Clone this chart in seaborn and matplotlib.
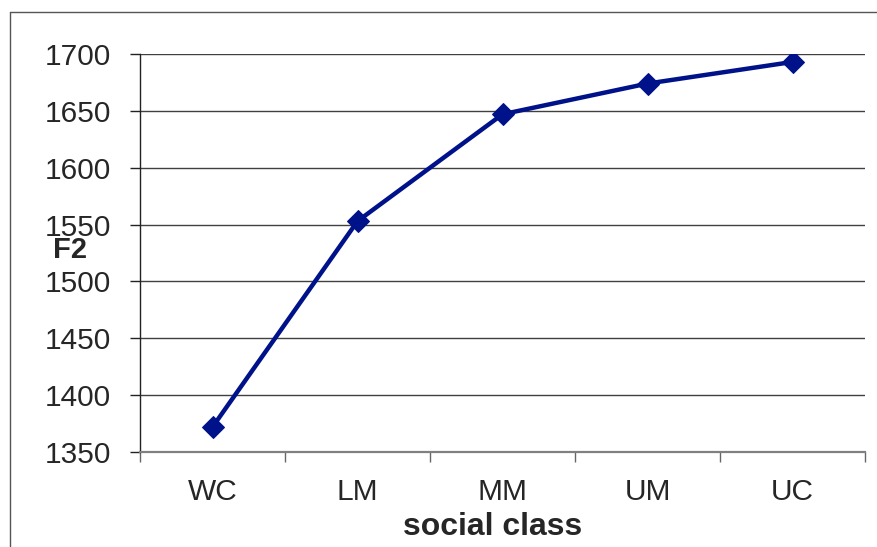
import numpy as np
import pandas as pd
import matplotlib
matplotlib.use('Agg')
import matplotlib.pyplot as plt
import seaborn as sns
from matplotlib.lines import Line2D
from matplotlib.ticker import FixedLocator

# 데이터
social_class = ['WC', 'LM', 'MM', 'UM', 'UC']
f2_values = [1372, 1553, 1647, 1674, 1693]
y_ticks = [1350, 1400, 1450, 1500, 1550, 1600, 1650, 1700]

sns.set_style('white')
plt.rcParams['font.family'] = ['Liberation Sans', 'DejaVu Sans']

df = pd.DataFrame({'social class': social_class, 'F2': f2_values})

fig = plt.figure(figsize=(8.78, 5.47), dpi=100)
ax = fig.add_axes([0.1595, 0.1737, 0.8257, 0.7276])

# 바깥 차트 테두리 (왼쪽, 위쪽만 보임)
bx = 10.5 / 878
by = (547 - 12) / 547
fig.lines.append(Line2D([bx, bx], [0, by], transform=fig.transFigure,
                        color='#555555', linewidth=1.0))
fig.lines.append(Line2D([bx, 1.0], [by, by], transform=fig.transFigure,
                        color='#555555', linewidth=1.0))

sns.lineplot(data=df, x='social class', y='F2', sort=False, ax=ax,
             color='#00128A', linewidth=3.2, marker='D', markersize=11,
             markeredgecolor='#00128A', zorder=5)

ax.set_xlim(-0.5, 4.5)
ax.set_ylim(1350, 1700)
ax.set_yticks(y_ticks)
ax.set_yticklabels([str(v) for v in y_ticks], fontsize=21.5)
ax.set_xticks(range(len(social_class)))
ax.set_xticklabels(social_class, fontsize=21.5)

# 가로 격자선
for v in y_ticks[1:]:
    ax.axhline(v, color='#404040', linewidth=1.0, zorder=1)

ax.tick_params(axis='y', direction='out', length=7, width=1, pad=14, left=True, color='#222222')
ax.tick_params(axis='x', which='major', length=0, pad=19)
ax.xaxis.set_minor_locator(FixedLocator(np.arange(-0.5, 5.0, 1.0)))
ax.tick_params(axis='x', which='minor', direction='out', length=7, width=1, color='#666666', bottom=True)

for s in ['top', 'right']:
    ax.spines[s].set_visible(False)
ax.spines['left'].set_color('#222222')
ax.spines['left'].set_linewidth(1.0)
ax.spines['bottom'].set_color('#808080')
ax.spines['bottom'].set_linewidth(1.6)

ax.set_xlabel('social class', fontsize=23, fontweight='bold', va='center')
ax.xaxis.set_label_coords(0.487, -0.188)
ax.set_ylabel('F2', fontsize=21, fontweight='bold', rotation=0, ha='center', va='center')
ax.yaxis.set_label_coords(-0.0966, 0.508)

fig.savefig('out.png', dpi=100)
